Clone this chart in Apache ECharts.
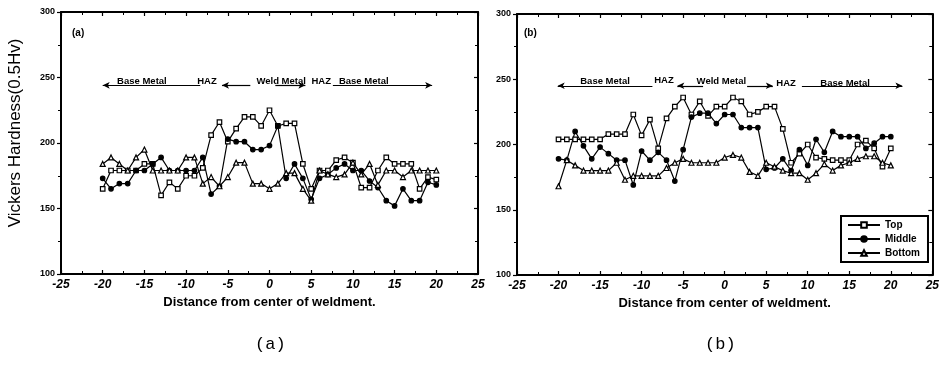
<!DOCTYPE html>
<html><head><meta charset="utf-8">
<script src="https://cdn.jsdelivr.net/npm/echarts@6/dist/echarts.min.js"></script>
<style>html,body{margin:0;padding:0;background:#fff}#c{width:942px;height:370px}</style>
</head><body><div id="c"></div>
<script>
// Distance from weld centre (mm)
const distances = [-20,-19,-18,-17,-16,-15,-14,-13,-12,-11,-10,-9,-8,-7,-6,-5,-4,-3,-2,-1,0,1,2,3,4,5,6,7,8,9,10,11,12,13,14,15,16,17,18,19,20];

// Panel (a)
const topA    = [165,179,179,179,179,184,184,160,170,165,175,175,181,206,216,201,211,220,220,213,225,213,215,215,184,165,179,179,187,189,185,166,166,179,189,184,184,184,165,174,172];
const middleA = [173,165,169,169,179,179,184,189,179,179,179,179,189,161,167,203,201,201,195,195,198,213,173,184,173,157,173,176,181,184,179,179,171,166,156,152,165,156,156,170,168];
const bottomA = [184,189,184,179,189,195,179,179,179,179,189,189,169,174,167,174,185,185,169,169,165,169,177,177,165,156,179,176,174,176,185,176,184,168,179,179,174,179,179,179,179];

// Panel (b)
const topB    = [204,204,204,204,204,204,208,208,208,223,207,219,197,220,229,236,223,233,222,229,229,236,233,223,225,229,229,212,186,193,200,190,189,188,188,188,200,203,197,183,197];
const middleB = [189,188,210,199,189,198,193,188,188,169,195,188,194,188,172,196,221,224,224,216,223,223,213,213,213,181,182,189,180,196,184,204,194,210,206,206,206,197,201,206,206];
const bottomB = [168,188,184,180,180,180,180,186,173,176,176,176,176,182,186,189,186,186,186,186,190,192,190,179,176,186,183,180,178,178,173,178,185,180,184,186,189,191,191,186,184];

const seriesNames = ['Top','Middle','Bottom'];

// Zone annotations (text, x, y in data units) and arrows ([tail, head] in x units)
const zoneTextA = [['Base Metal',-15.3,247],['HAZ',-7.5,247],['Weld Metal',1.4,247],['HAZ',6.2,247],['Base Metal',11.3,247]];
const zoneArrowA = [[-8.3,-20],[-2.3,-5.7],[0.7,4.3],[7.6,19.5]];
const zoneTextB = [['Base Metal',-14.4,248],['HAZ',-7.3,249],['Weld Metal',-0.4,248],['HAZ',7.4,247],['Base Metal',14.5,247]];
const zoneArrowB = [[-8.7,-20.1],[-2.6,-5.7],[2.7,5.8],[9.3,21.4]];
const arrowYA = 244, arrowYB = 245;

const F = 'Liberation Sans, Arial, sans-serif';
const pair = arr => distances.map((d,i)=>[d,arr[i]]);

const symbols = {Top:'rect', Middle:'circle', Bottom:'triangle'};
const symSize = {Top:4.5, Middle:4.5, Bottom:5};
const fills = {Top:'#fff', Middle:'#000', Bottom:'#fff'};

function mkSeries(name, data, gi, extra){
  return Object.assign({
    type:'line', name, xAxisIndex:gi*2, yAxisIndex:gi*2, data:pair(data),
    symbol:symbols[name], symbolSize:symSize[name], showSymbol:true,
    lineStyle:{color:'#000', width:1.2},
    itemStyle:{color:fills[name], borderColor:'#000', borderWidth:1.2},
    emphasis:{disabled:true}, animation:false, z:3
  }, extra||{});
}

function marks(texts, arrows, ay){
  return {
    markLine:{
      silent:true, symbol:['none','arrow'], symbolSize:[5,7],
      lineStyle:{color:'#000', width:1.2, type:'solid'}, label:{show:false},
      data: arrows.map(a=>[{coord:[a[0],ay]},{coord:[a[1],ay]}]),
      animation:false
    },
    markPoint:{
      silent:true, symbol:'circle', symbolSize:0,
      label:{show:true, color:'#000', fontFamily:F, fontWeight:'bold', fontSize:9.5, formatter:p=>p.name, position:'inside'},
      data: texts.map(t=>({name:t[0], coord:[t[1],t[2]]})),
      animation:false
    }
  };
}

const grids = [
  {left:61, top:12, width:417, height:262},
  {left:517, top:14, width:416, height:261}
];

const xAxes = [], yAxes = [];
grids.forEach((g,gi)=>{
  xAxes.push({
    gridIndex:gi, type:'value', min:-25, max:25, interval:5, position:'bottom',
    axisLine:{onZero:false, lineStyle:{color:'#000', width:2}},
    axisTick:{inside:true, length:4, lineStyle:{color:'#000', width:1.2}},
    minorTick:{show:true, splitNumber:2, length:3, lineStyle:{color:'#000'}},
    splitLine:{show:false},
    axisLabel:{color:'#000', fontFamily:F, fontWeight:'bold', fontStyle:'italic', fontSize:12, margin:5},
    name:'Distance from center of weldment.', nameLocation:'middle', nameGap:20,
    nameTextStyle:{color:'#000', fontFamily:F, fontWeight:'bold', fontSize:13}
  });
  xAxes.push({
    gridIndex:gi, type:'value', min:-25, max:25, interval:5, position:'top',
    axisLine:{onZero:false, lineStyle:{color:'#000', width:2}},
    axisTick:{inside:true, length:4, lineStyle:{color:'#000', width:1.2}},
    minorTick:{show:true, splitNumber:2, length:3, lineStyle:{color:'#000'}},
    splitLine:{show:false}, axisLabel:{show:false}
  });
  yAxes.push({
    gridIndex:gi, type:'value', min:100, max:300, interval:50, position:'left',
    axisLine:{onZero:false, lineStyle:{color:'#000', width:2}},
    axisTick:{inside:false, length:4, lineStyle:{color:'#000', width:1.2}},
    minorTick:{show:true, splitNumber:2, length:3, lineStyle:{color:'#000'}},
    splitLine:{show:false},
    axisLabel:{color:'#000', fontFamily:F, fontWeight:'bold', fontSize:9, margin:6},
    name: gi===0 ? 'Vickers Hardness(0.5Hv)' : '', nameLocation:'middle', nameGap:37,
    nameTextStyle:{color:'#000', fontFamily:F, fontSize:17, padding:[0,0,0,20]}
  });
  yAxes.push({
    gridIndex:gi, type:'value', min:100, max:300, interval:50, position:'right',
    axisLine:{onZero:false, lineStyle:{color:'#000', width:2}},
    axisTick:{inside:true, length:4, lineStyle:{color:'#000', width:1.2}},
    minorTick:{show:true, splitNumber:2, length:3, lineStyle:{color:'#000'}},
    splitLine:{show:false}, axisLabel:{show:false}
  });
});

const series = [
  mkSeries('Top', topA, 0, marks(zoneTextA, zoneArrowA, arrowYA)),
  mkSeries('Middle', middleA, 0),
  mkSeries('Bottom', bottomA, 0),
  mkSeries('Top', topB, 1, marks(zoneTextB, zoneArrowB, arrowYB)),
  mkSeries('Middle', middleB, 1),
  mkSeries('Bottom', bottomB, 1)
];

const chart = echarts.init(document.getElementById('c'), null, {renderer:'canvas'});
chart.setOption({
  animation:false,
  backgroundColor:'#fff',
  grid:grids,
  xAxis:xAxes,
  yAxis:yAxes,
  legend:{
    data:seriesNames, orient:'vertical', left:841, top:216,
    itemWidth:32, itemHeight:7, itemGap:4,
    backgroundColor:'#fff', borderColor:'#000', borderWidth:2, borderRadius:0,
    padding:[4,8,4,6],
    textStyle:{color:'#000', fontFamily:F, fontWeight:'bold', fontSize:10},
    selectedMode:false
  },
  graphic:[
    {type:'text', left:72, top:28, style:{text:'(a)', font:'bold 10px '+F, fill:'#000'}},
    {type:'text', left:524, top:28, style:{text:'(b)', font:'bold 10px '+F, fill:'#000'}},
    {type:'text', left:255, top:336, style:{text:'(a)', font:'17px "Liberation Mono", monospace', fill:'#000'}},
    {type:'text', left:705, top:336, style:{text:'(b)', font:'17px "Liberation Mono", monospace', fill:'#000'}}
  ],
  series
});
</script></body></html>
